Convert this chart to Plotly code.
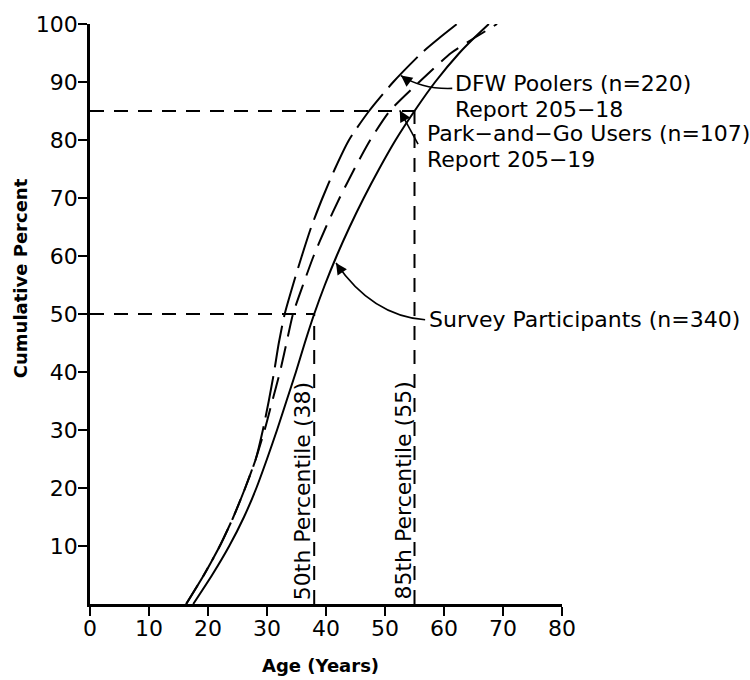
import plotly.graph_objects as go

# Cumulative percent levels at which the age of each group is read
pct_levels = [0, 5, 10, 15, 20, 25, 30, 35, 40, 45, 50, 55, 60, 65, 70, 75,
              80, 85, 90, 95, 97.5, 100]

# Age (years) reaching each cumulative percent level
survey_age = [17.5, 20.7, 23.6, 26.1, 28.2, 30.0, 31.7, 33.3, 34.9, 36.4, 38.0,
              39.8, 41.8, 44.0, 46.4, 49.0, 51.8, 55.0, 58.5, 62.6, 65.0, 67.6]
park_go_age = [16.3, 19.3, 22.0, 24.3, 26.3, 28.1, 29.6, 30.9, 32.2, 33.3, 34.4,
               36.1, 37.9, 40.0, 42.3, 44.8, 47.5, 50.8, 55.8, 61.2, 65.0, 69.0]
dfw_age = [16.3, 19.3, 22.0, 24.3, 26.3, 28.1, 29.3, 30.3, 31.2, 32.0, 33.0,
           34.4, 35.9, 37.5, 39.4, 41.5, 43.9, 47.3, 51.4, 56.2, 59.1, 62.2]

# Percentiles of the survey participants
p50_age, p50_pct = 38, 50
p85_age, p85_pct = 55, 85

x_ticks = [0, 10, 20, 30, 40, 50, 60, 70, 80]
y_ticks = [10, 20, 30, 40, 50, 60, 70, 80, 90, 100]

FONT = "DejaVu Sans"
INK = "black"

fig = go.Figure()

fig.add_trace(go.Scatter(x=dfw_age, y=pct_levels, mode="lines",
                         line=dict(color=INK, width=2, dash="42px,9px", shape="spline", smoothing=0.6),
                         name="DFW Poolers", hoverinfo="skip"))
fig.add_trace(go.Scatter(x=park_go_age, y=pct_levels, mode="lines",
                         line=dict(color=INK, width=2, dash="22px,10px", shape="spline", smoothing=0.6),
                         name="Park-and-Go Users", hoverinfo="skip"))
fig.add_trace(go.Scatter(x=survey_age, y=pct_levels, mode="lines",
                         line=dict(color=INK, width=2, shape="spline", smoothing=0.6),
                         name="Survey Participants", hoverinfo="skip"))

# Percentile guide lines
ref_dash = dict(color=INK, width=2, dash="14px,10px")
for age, pct in [(p50_age, p50_pct), (p85_age, p85_pct)]:
    fig.add_shape(type="line", xref="x", yref="y", x0=0, y0=pct, x1=age, y1=pct, line=ref_dash)
    fig.add_shape(type="line", xref="x", yref="y", x0=age, y0=0, x1=age, y1=pct, line=ref_dash)

for age, label in [(p50_age, f"50th Percentile ({p50_age})"),
                   (p85_age, f"85th Percentile ({p85_age})")]:
    fig.add_annotation(x=age, y=0, xref="x", yref="y", text=label, showarrow=False,
                       textangle=-90, xanchor="center", yanchor="bottom",
                       xshift=-12, yshift=2, font=dict(family=FONT, size=22, color=INK))

# Curved leader lines from the labels to the curves: (start, control, tip, head offset px)
leaders = [
    ((61.4, 88.9), (56.4, 88.7), (52.7, 91.1), (8, 6)),
    ((55.6, 79.3), (53.9, 82.5), (52.5, 85.1), (5, 9)),
    ((56.8, 49.0), (47.8, 49.7), (41.7, 58.8), (6, 9)),
]
for (sx, sy), (cx, cy), (tx, ty), (ox, oy) in leaders:
    fig.add_shape(type="path", xref="x", yref="y",
                  path=f"M {sx},{sy} Q {cx},{cy} {tx},{ty}",
                  line=dict(color=INK, width=1.6))
    fig.add_annotation(x=tx, y=ty, xref="x", yref="y", ax=ox, ay=oy, text="",
                       showarrow=True, arrowhead=2, arrowsize=1.4, arrowwidth=1.6,
                       arrowcolor=INK, standoff=0)

label_font = dict(family=FONT, size=22, color=INK)
labels = [
    (61.5, 89.7, "DFW Poolers (n=220)"),
    (61.5, 85.2, "Report 205\u221218"),
    (56.8, 81.2, "Park\u2212and\u2212Go Users (n=107)"),
    (56.8, 76.7, "Report 205\u221219"),
    (57.2, 49.1, "Survey Participants (n=340)"),
]
for x, y, t in labels:
    fig.add_annotation(x=x, y=y, xref="x", yref="y", text=t, showarrow=False,
                       xanchor="left", yanchor="middle", font=label_font)

# Axis titles
fig.add_annotation(x=-0.148, y=0.562, xref="paper", yref="paper", text="<b>Cumulative Percent</b>",
                   showarrow=False, textangle=-90, xanchor="center", yanchor="middle",
                   font=dict(family=FONT, size=18, color=INK))
fig.add_annotation(x=0.489, y=-0.106, xref="paper", yref="paper", text="<b>Age (Years)</b>",
                   showarrow=False, xanchor="center", yanchor="middle",
                   font=dict(family=FONT, size=18, color=INK))

axis_common = dict(showline=True, linewidth=2.5, linecolor=INK, showgrid=False, zeroline=False,
                   ticks="outside", tickwidth=2, tickcolor=INK,
                   tickfont=dict(family=FONT, size=22, color=INK))
fig.update_xaxes(range=[0, 80], tickvals=x_ticks, ticktext=[str(v) for v in x_ticks],
                 ticklen=9, ticklabelstandoff=-6, **axis_common)
fig.update_yaxes(range=[0, 100], tickvals=y_ticks, ticktext=[str(v) for v in y_ticks],
                 ticklen=9, ticklabelstandoff=-4, **axis_common)

fig.update_layout(width=750, height=680, margin=dict(l=90, r=188, t=20, b=76),
                  paper_bgcolor="white", plot_bgcolor="white", showlegend=False)

fig.write_html("out.html")
